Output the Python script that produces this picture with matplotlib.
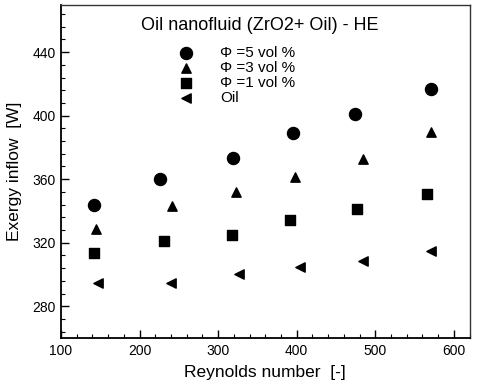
import matplotlib
matplotlib.use("Agg")
import matplotlib.pyplot as plt
from matplotlib.ticker import MultipleLocator

plt.rcParams['font.family'] = ['Liberation Sans', 'DejaVu Sans']

re_5 = [141.5, 226, 318.7, 394.8, 474.4, 570.4]
ex_5 = [343.5, 360, 373.1, 389.4, 401, 417.1]
re_3 = [144.4, 240.9, 323, 398.2, 484.9, 570.4]
ex_3 = [328.7, 342.9, 351.9, 361.6, 372.5, 390]
re_1 = [142.3, 231.1, 317.9, 391.9, 476.5, 566.5]
ex_1 = [313.3, 321, 324.7, 334, 341.4, 350.8]
re_oil = [147.4, 240.4, 327.2, 404.6, 484.9, 570.4]
ex_oil = [294.4, 294.4, 300.2, 304.8, 308.5, 315]

labels = ["\u03a6 =5 vol %", "\u03a6 =3 vol %", "\u03a6 =1 vol %", "Oil"]
title = "Oil nanofluid (ZrO2+ Oil) - HE"

fig = plt.figure(figsize=(4.8, 3.85), dpi=100)
ax = fig.add_axes([61/480, 1 - 338/385, (469.5-61)/480, (338-4.5)/385])

ax.scatter(re_5, ex_5, marker='o', s=75, color='black', label=labels[0])
ax.scatter(re_3, ex_3, marker='^', s=45, color='black', label=labels[1])
ax.scatter(re_1, ex_1, marker='s', s=50, color='black', label=labels[2])
ax.scatter(re_oil, ex_oil, marker='<', s=45, color='black', label=labels[3])

ax.set_xlim(100, 620)
ax.set_ylim(260, 470)
ax.xaxis.set_major_locator(MultipleLocator(100))
ax.xaxis.set_minor_locator(MultipleLocator(20))
ax.yaxis.set_major_locator(MultipleLocator(40))
ax.yaxis.set_minor_locator(MultipleLocator(8))
ax.tick_params(which='both', direction='in', top=False, right=False, labelsize=10, colors='black')
ax.tick_params(which='major', length=6, width=1, pad=4)
ax.tick_params(which='minor', length=3, width=0.8)
for s in ['left', 'bottom']:
    ax.spines[s].set_linewidth(1.3)
for s in ['top', 'right']:
    ax.spines[s].set_linewidth(1.0)
    ax.spines[s].set_color('#333333')

ax.set_xlabel("Reynolds number  [-]", fontsize=12.5, labelpad=5)
ax.set_ylabel("Exergy inflow  [W]", fontsize=12.5, labelpad=7)

fig.text(260/480, 1 - 26/385, title, ha='center', va='center', fontsize=13)

leg = ax.legend(loc='upper left', bbox_to_anchor=(177.7/480, 1 - 46/385),
                bbox_transform=fig.transFigure, frameon=False, fontsize=11,
                handletextpad=1.7, labelspacing=0.07, borderpad=0, borderaxespad=0,
                handlelength=1.1)

fig.savefig("out.png", dpi=100)
